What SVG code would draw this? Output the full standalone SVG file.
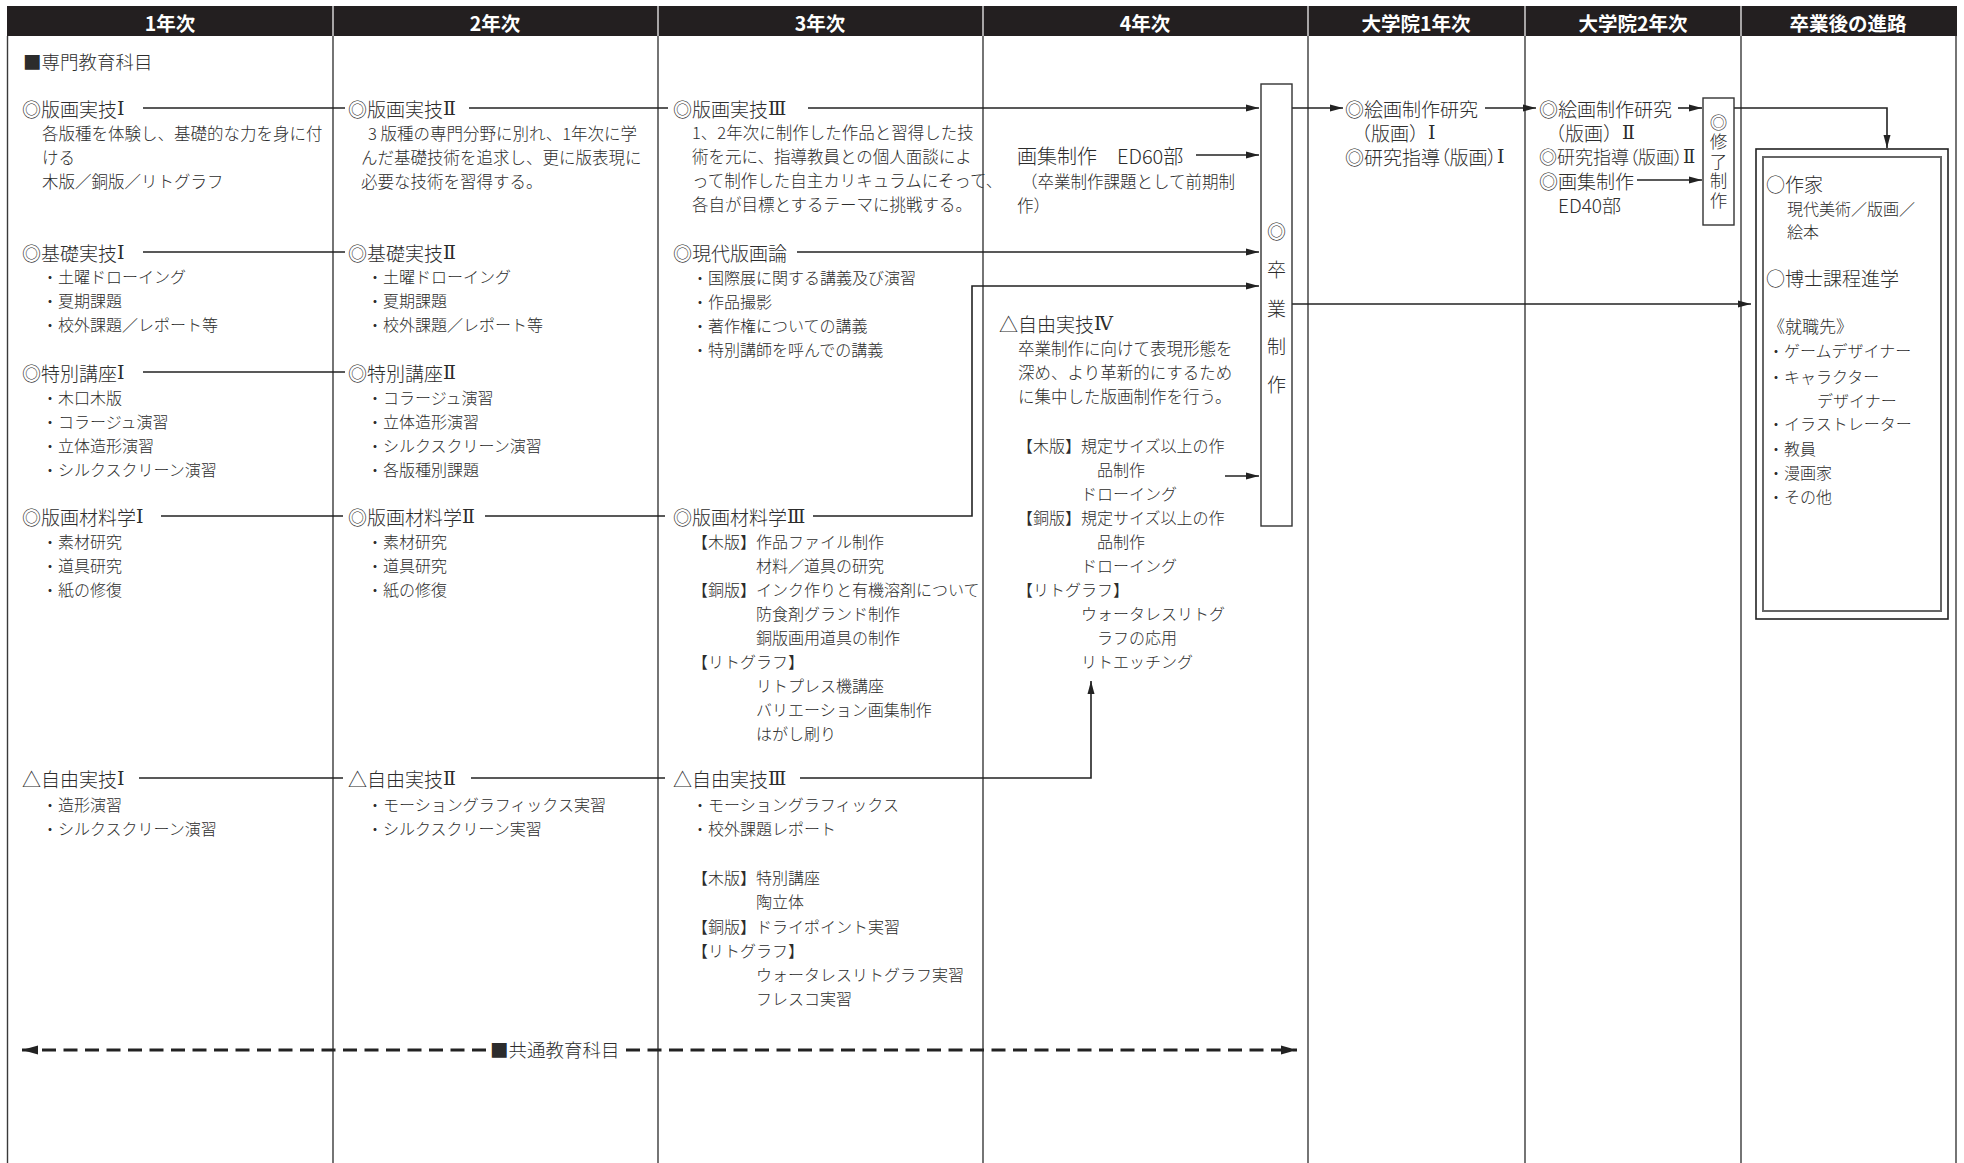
<svg xmlns="http://www.w3.org/2000/svg" width="1964" height="1163" viewBox="0 0 1964 1163">
<style>
text{font-family:"Noto Sans CJK JP","Noto Sans",sans-serif;fill:#2c2c2c;dominant-baseline:central;font-weight:300}
.hd{fill:#fff;font-size:19.5px;font-weight:700;text-anchor:middle}
.h{font-size:19px}
.d{font-size:16.5px}
.s{font-size:16px}
.v{font-size:19px;text-anchor:middle}
.rn{font-family:"DejaVu Serif","Noto Sans CJK JP",serif}
.pa{font-feature-settings:"palt"}
.grid{stroke:#3a3a3a;stroke-width:1.4;fill:none}
.c{stroke:#222;stroke-width:1.6;fill:none}
.dash{stroke:#222;stroke-width:2.8;fill:none;stroke-dasharray:14 7.5}
.box{fill:#fff;stroke:#333;stroke-width:1.4}
</style>
<defs>
<marker id="ah" markerUnits="userSpaceOnUse" markerWidth="14" markerHeight="8" refX="13" refY="4" orient="auto">
<path d="M0,0.5 L13,4 L0,7.5 z" fill="#222"/>
</marker>
<marker id="ahs" markerUnits="userSpaceOnUse" markerWidth="18" markerHeight="10" refX="16" refY="5" orient="auto">
<path d="M0,0.5 L16,5 L0,9.5 z" fill="#222"/>
</marker>
</defs>
<rect width="1964" height="1163" fill="#fff"/>
<g id="header">
<rect x="7" y="6" width="1950" height="30" fill="#231f20"/>
<g stroke="#fff" stroke-width="1.2">
<line x1="333" y1="6" x2="333" y2="36"/><line x1="658" y1="6" x2="658" y2="36"/><line x1="983" y1="6" x2="983" y2="36"/><line x1="1308" y1="6" x2="1308" y2="36"/><line x1="1525" y1="6" x2="1525" y2="36"/><line x1="1741" y1="6" x2="1741" y2="36"/>
</g>
<text class="hd" x="170" y="22">1年次</text>
<text class="hd" x="495" y="22">2年次</text>
<text class="hd" x="820" y="22">3年次</text>
<text class="hd" x="1145" y="22">4年次</text>
<text class="hd" x="1416" y="22">大学院1年次</text>
<text class="hd" x="1633" y="22">大学院2年次</text>
<text class="hd" x="1848" y="22">卒業後の進路</text>
</g>
<g id="grid" class="grid">
<line x1="7.5" y1="36" x2="7.5" y2="1163"/>
<line x1="333" y1="36" x2="333" y2="1163"/>
<line x1="658" y1="36" x2="658" y2="1163"/>
<line x1="983" y1="36" x2="983" y2="1163"/>
<line x1="1308" y1="36" x2="1308" y2="1163"/>
<line x1="1525" y1="36" x2="1525" y2="1163"/>
<line x1="1741" y1="36" x2="1741" y2="1163"/>
<line x1="1956" y1="36" x2="1956" y2="1163"/>
</g>
<g id="connectors">
<line class="c" x1="143" y1="108" x2="345" y2="108"/>
<line class="c" x1="469" y1="108" x2="668" y2="108"/>
<line class="c" x1="808" y1="108" x2="1259" y2="108" marker-end="url(#ah)"/>
<line class="c" x1="143" y1="252" x2="345" y2="252"/>
<line class="c" x1="797" y1="252" x2="1259" y2="252" marker-end="url(#ah)"/>
<line class="c" x1="143" y1="372" x2="345" y2="372"/>
<line class="c" x1="161" y1="516" x2="343" y2="516"/>
<line class="c" x1="485" y1="516" x2="665" y2="516"/>
<polyline class="c" points="813,516 972,516 972,286 1259,286" marker-end="url(#ah)"/>
<line class="c" x1="1196" y1="155" x2="1259" y2="155" marker-end="url(#ah)"/>
<line class="c" x1="1225" y1="476" x2="1259" y2="476" marker-end="url(#ah)"/>
<line class="c" x1="139" y1="778" x2="343" y2="778"/>
<line class="c" x1="471" y1="778" x2="665" y2="778"/>
<polyline class="c" points="800,778 1091,778 1091,681" marker-end="url(#ah)"/>
<line class="c" x1="1292" y1="108" x2="1343" y2="108" marker-end="url(#ah)"/>
<line class="c" x1="1292" y1="304" x2="1751" y2="304" marker-end="url(#ah)"/>
<line class="c" x1="1485" y1="108" x2="1536" y2="108" marker-end="url(#ah)"/>
<line class="c" x1="1678" y1="108" x2="1702" y2="108" marker-end="url(#ah)"/>
<line class="c" x1="1637" y1="180" x2="1702" y2="180" marker-end="url(#ah)"/>
<polyline class="c" points="1734,108 1887,108 1887,148" marker-end="url(#ah)"/>
<line class="dash" x1="486" y1="1050" x2="22" y2="1050" marker-end="url(#ahs)"/>
<line class="dash" x1="626" y1="1050" x2="1297" y2="1050" marker-end="url(#ahs)"/>
</g>
<g id="label-senmon"><text x="23" y="61" style="font-size:18.5px">■専門教育科目</text></g>
<g id="label-kyotsu"><text x="490" y="1049" style="font-size:18.5px">■共通教育科目</text></g>
<g id="y1-hanga"><text class="h" x="22" y="108">◎版画実技<tspan class="rn">Ⅰ</tspan></text>
<text class="d" x="42" y="133">各版種を体験し、基礎的な力を身に付</text>
<text class="d" x="42" y="157">ける</text>
<text class="d" x="42" y="181">木版／銅版／リトグラフ</text></g>
<g id="y1-kiso"><text class="h" x="22" y="252">◎基礎実技<tspan class="rn">Ⅰ</tspan></text>
<text class="s" x="42" y="276">・土曜ドローイング</text>
<text class="s" x="42" y="300">・夏期課題</text>
<text class="s" x="42" y="324">・校外課題／レポート等</text></g>
<g id="y1-tokubetsu"><text class="h" x="22" y="372">◎特別講座<tspan class="rn">Ⅰ</tspan></text>
<text class="s" x="42" y="397">・木口木版</text>
<text class="s" x="42" y="421">・コラージュ演習</text>
<text class="s" x="42" y="445">・立体造形演習</text>
<text class="s" x="42" y="469">・シルクスクリーン演習</text></g>
<g id="y1-zairyo"><text class="h" x="22" y="516">◎版画材料学<tspan class="rn">Ⅰ</tspan></text>
<text class="s" x="42" y="541">・素材研究</text>
<text class="s" x="42" y="565">・道具研究</text>
<text class="s" x="42" y="589">・紙の修復</text></g>
<g id="y1-jiyu"><text class="h" x="22" y="778">△自由実技<tspan class="rn">Ⅰ</tspan></text>
<text class="s" x="42" y="804">・造形演習</text>
<text class="s" x="42" y="828">・シルクスクリーン演習</text></g>
<g id="y2-hanga"><text class="h" x="348" y="108">◎版画実技<tspan class="rn">Ⅱ</tspan></text>
<text class="d" x="368" y="133">3 版種の専門分野に別れ、1年次に学</text>
<text class="d" x="361" y="157">んだ基礎技術を追求し、更に版表現に</text>
<text class="d" x="361" y="181">必要な技術を習得する。</text></g>
<g id="y2-kiso"><text class="h" x="348" y="252">◎基礎実技<tspan class="rn">Ⅱ</tspan></text>
<text class="s" x="367" y="276">・土曜ドローイング</text>
<text class="s" x="367" y="300">・夏期課題</text>
<text class="s" x="367" y="324">・校外課題／レポート等</text></g>
<g id="y2-tokubetsu"><text class="h" x="348" y="372">◎特別講座<tspan class="rn">Ⅱ</tspan></text>
<text class="s" x="367" y="397">・コラージュ演習</text>
<text class="s" x="367" y="421">・立体造形演習</text>
<text class="s" x="367" y="445">・シルクスクリーン演習</text>
<text class="s" x="367" y="469">・各版種別課題</text></g>
<g id="y2-zairyo"><text class="h" x="348" y="516">◎版画材料学<tspan class="rn">Ⅱ</tspan></text>
<text class="s" x="367" y="541">・素材研究</text>
<text class="s" x="367" y="565">・道具研究</text>
<text class="s" x="367" y="589">・紙の修復</text></g>
<g id="y2-jiyu"><text class="h" x="348" y="778">△自由実技<tspan class="rn">Ⅱ</tspan></text>
<text class="s" x="367" y="804">・モーショングラフィックス実習</text>
<text class="s" x="367" y="828">・シルクスクリーン実習</text></g>
<g id="y3-hanga"><text class="h" x="673" y="108">◎版画実技<tspan class="rn">Ⅲ</tspan></text>
<text class="d" x="692" y="132">1、2年次に制作した作品と習得した技</text>
<text class="d" x="692" y="156">術を元に、指導教員との個人面談によ</text>
<text class="d" x="692" y="180">って制作した自主カリキュラムにそって、</text>
<text class="d" x="692" y="204">各自が目標とするテーマに挑戦する。</text></g>
<g id="y3-gendai"><text class="h" x="673" y="252">◎現代版画論</text>
<text class="s" x="692" y="277">・国際展に関する講義及び演習</text>
<text class="s" x="692" y="301">・作品撮影</text>
<text class="s" x="692" y="325">・著作権についての講義</text>
<text class="s" x="692" y="349">・特別講師を呼んでの講義</text></g>
<g id="y3-zairyo"><text class="h" x="673" y="516">◎版画材料学<tspan class="rn">Ⅲ</tspan></text>
<text class="s" x="692" y="541">【木版】作品ファイル制作</text>
<text class="s" x="756" y="565">材料／道具の研究</text>
<text class="s" x="692" y="589">【銅版】インク作りと有機溶剤について</text>
<text class="s" x="756" y="613">防食剤グランド制作</text>
<text class="s" x="756" y="637">銅版画用道具の制作</text>
<text class="s" x="692" y="661">【リトグラフ】</text>
<text class="s" x="756" y="685">リトプレス機講座</text>
<text class="s" x="756" y="709">バリエーション画集制作</text>
<text class="s" x="756" y="733">はがし刷り</text></g>
<g id="y3-jiyu"><text class="h" x="673" y="778">△自由実技<tspan class="rn">Ⅲ</tspan></text>
<text class="s" x="692" y="804">・モーショングラフィックス</text>
<text class="s" x="692" y="828">・校外課題レポート</text>
<text class="s" x="692" y="877">【木版】特別講座</text>
<text class="s" x="756" y="901">陶立体</text>
<text class="s" x="692" y="926">【銅版】ドライポイント実習</text>
<text class="s" x="692" y="950">【リトグラフ】</text>
<text class="s" x="756" y="974">ウォータレスリトグラフ実習</text>
<text class="s" x="756" y="998">フレスコ実習</text></g>
<g id="y4-gashu"><text x="1017" y="155" style="font-size:20px">画集制作　ED60部</text>
<text class="d" x="1021" y="181">（卒業制作課題として前期制</text>
<text class="d" x="1017" y="205">作）</text></g>
<g id="y4-jiyu"><text class="h" x="999" y="323">△自由実技<tspan class="rn">Ⅳ</tspan></text>
<text class="d" x="1018" y="348">卒業制作に向けて表現形態を</text>
<text class="d" x="1018" y="372">深め、より革新的にするため</text>
<text class="d" x="1018" y="396">に集中した版画制作を行う。</text>
<text class="s" x="1017" y="445">【木版】規定サイズ以上の作</text>
<text class="s" x="1097" y="469">品制作</text>
<text class="s" x="1081" y="493">ドローイング</text>
<text class="s" x="1017" y="517">【銅版】規定サイズ以上の作</text>
<text class="s" x="1097" y="541">品制作</text>
<text class="s" x="1081" y="565">ドローイング</text>
<text class="s" x="1017" y="589">【リトグラフ】</text>
<text class="s" x="1081" y="613">ウォータレスリトグ</text>
<text class="s" x="1097" y="637">ラフの応用</text>
<text class="s" x="1081" y="661">リトエッチング</text></g>
<g id="sotsugyo-seisaku"><rect class="box" x="1261" y="84" width="31" height="442"/>
<text class="v" x="1276.5" y="230">◎</text>
<text class="v" x="1276.5" y="268">卒</text>
<text class="v" x="1276.5" y="307">業</text>
<text class="v" x="1276.5" y="345">制</text>
<text class="v" x="1276.5" y="383">作</text></g>
<g id="m1"><text class="h"><tspan x="1345" y="107.5">◎絵画制作研究</tspan><tspan x="1352" y="131.5">（版画）</tspan><tspan class="rn">Ⅰ</tspan><tspan class="pa" x="1345" y="155.5">◎研究指導（版画）</tspan><tspan class="rn">Ⅰ</tspan></text></g>
<g id="m2"><text class="h"><tspan x="1539" y="107.5">◎絵画制作研究</tspan><tspan x="1546" y="131.5">（版画）</tspan><tspan class="rn">Ⅱ</tspan><tspan class="pa" x="1539" y="155.5" style="font-size:18px">◎研究指導（版画）</tspan><tspan class="rn" style="font-size:18px">Ⅱ</tspan><tspan x="1539" y="180">◎画集制作</tspan><tspan x="1558" y="204">ED40部</tspan></text></g>
<g id="shuryo-seisaku"><rect class="box" x="1703" y="98" width="31" height="127"/>
<text x="1718.5" y="113.5" writing-mode="vertical-rl" style="font-size:17.5px;letter-spacing:2px">◎修了制作</text></g>
<g id="career"><rect x="1756" y="149" width="192" height="470" fill="#fff" stroke="#222" stroke-width="1.6"/>
<rect x="1763" y="157" width="178" height="454" fill="none" stroke="#666" stroke-width="2"/>
<text class="h" x="1766" y="183">○作家</text>
<text class="s" x="1787" y="208">現代美術／版画／</text>
<text class="s" x="1787" y="231">絵本</text>
<text class="h" x="1766" y="277">○博士課程進学</text>
<text x="1768" y="325" style="font-size:17px">《就職先》</text>
<text class="s" x="1768" y="350">・ゲームデザイナー</text>
<text class="s" x="1768" y="376">・キャラクター</text>
<text class="s" x="1817" y="400">デザイナー</text>
<text class="s" x="1768" y="423">・イラストレーター</text>
<text class="s" x="1768" y="448">・教員</text>
<text class="s" x="1768" y="472">・漫画家</text>
<text class="s" x="1768" y="496">・その他</text></g>
</svg>
